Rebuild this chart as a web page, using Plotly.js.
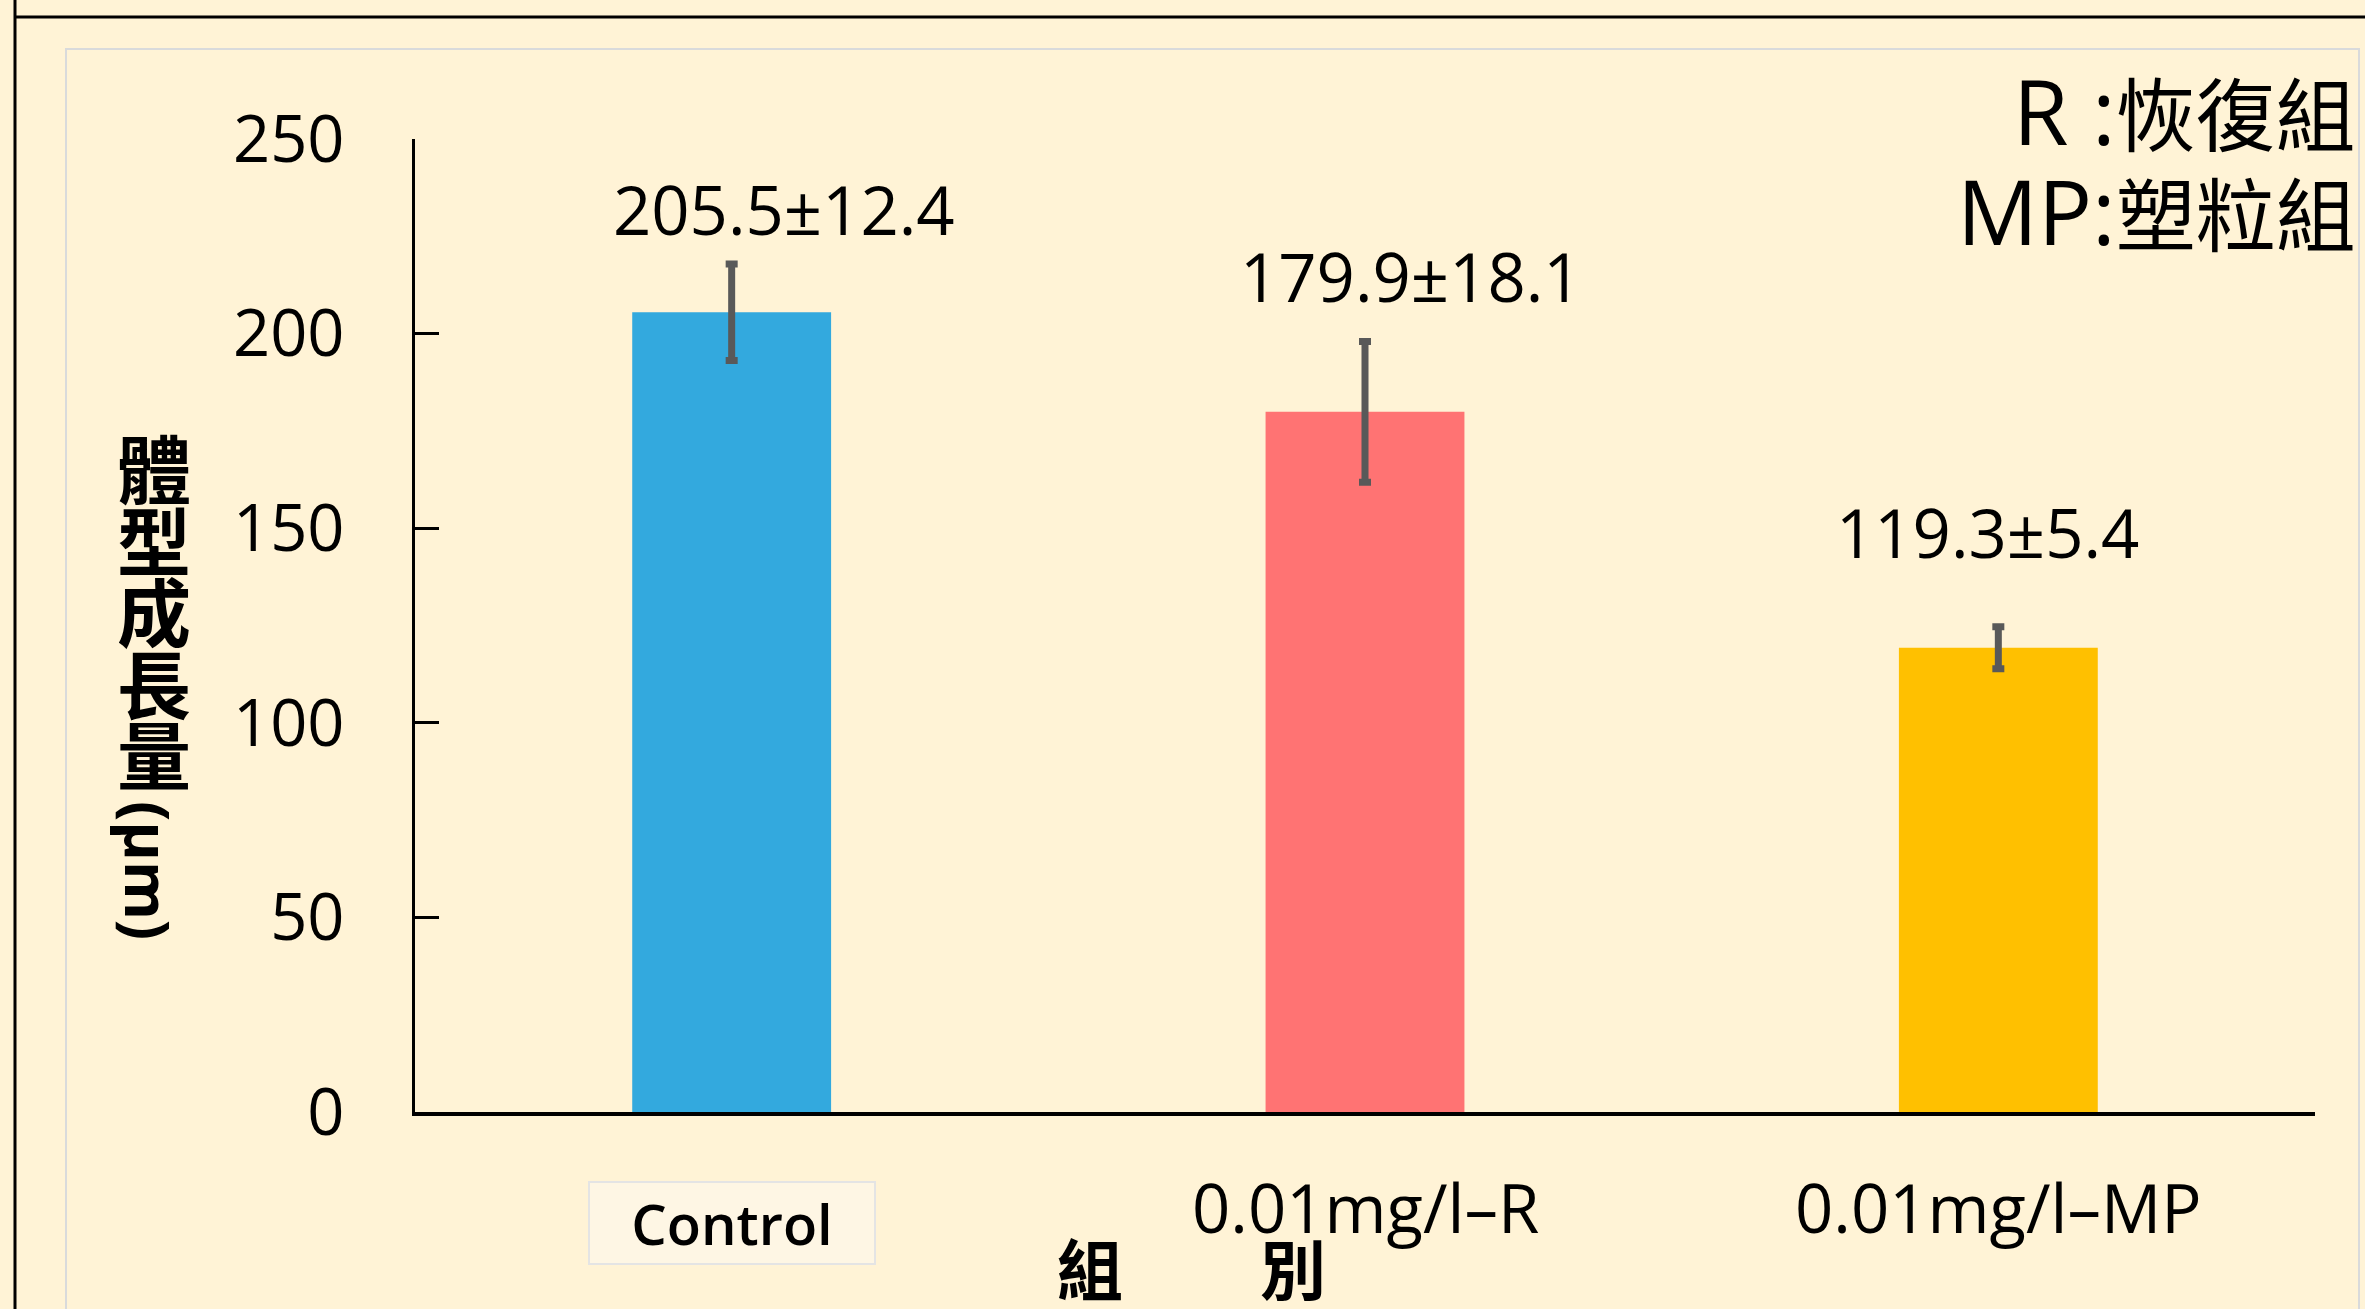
<!DOCTYPE html>
<html>
<head>
<meta charset="utf-8">
<script src="https://cdn.plot.ly/plotly-3.0.1.min.js"></script>
<style>
  html, body { margin: 0; padding: 0; background: #FFF3D6; }
  #chart { width: 2365px; height: 1309px; }
</style>
</head>
<body>
<div id="chart"></div>
<script>
// ---- data ----
const categories = ['Control', '0.01mg/l–R', '0.01mg/l–MP'];
const means = [205.5, 179.9, 119.3];
const sds = [12.4, 18.1, 5.4];
const valueLabels = ['205.5±12.4', '179.9±18.1', '119.3±5.4'];
const barColors = ['#33A9DE', '#FF7373', '#FFC000'];
const yTicks = [0, 50, 100, 150, 200, 250];
const yTitleChars = ['體', '型', '成', '長', '量'];
const yTitleUnit = '(μm)';
const xTitleChars = ['組', '別'];
const noteKeys = ['R :', 'MP:'];
const noteNames = ['恢復組', '塑粒組'];

// ---- layout geometry (pixels) ----
const W = 2365, H = 1309;
const M = { l: 415, r: 50, t: 139, b: 197 };
const PW = W - M.l - M.r, PH = H - M.t - M.b;
const px2x = px => (px - M.l) / PW;
const px2y = py => (H - M.b - py) / PH;

const latin = 'Open Sans, Noto Sans CJK TC, sans-serif';
const cjk = 'Noto Sans CJK TC, Open Sans, sans-serif';

const trace = {
  type: 'bar',
  x: categories,
  y: means,
  marker: { color: barColors, line: { width: 0 } },
  error_y: { type: 'data', array: sds, visible: true, color: '#595959', thickness: 7, width: 6 },
  hoverinfo: 'skip',
  showlegend: false
};

const annotations = [];

// value labels above bars
const labelPy = [209, 276, 532];
const labelShift = [52, 46, -11];
valueLabels.forEach((t, i) => {
  annotations.push({
    text: t, xref: 'x', x: i, yref: 'paper', y: px2y(labelPy[i]),
    xshift: labelShift[i], xanchor: 'center', yanchor: 'middle', showarrow: false,
    font: { family: latin, size: 67, color: '#000' }
  });
});

// category labels under x axis
categories.forEach((c, i) => {
  if (i === 0) {
    annotations.push({
      text: c, xref: 'x', x: i, yref: 'paper', y: px2y(1223),
      xanchor: 'center', yanchor: 'middle', showarrow: false,
      width: 284, height: 80, borderpad: 0,
      bgcolor: '#FEF6E4', bordercolor: '#E4E4E4', borderwidth: 2,
      font: { family: latin, size: 56, color: '#000', weight: 600 }
    });
  } else {
    annotations.push({
      text: c, xref: 'x', x: i, yref: 'paper', y: px2y(1207),
      xanchor: 'center', yanchor: 'middle', showarrow: false,
      font: { family: latin, size: 67, color: '#000' }
    });
  }
});

// y axis title: stacked CJK chars (one text block) + rotated unit
annotations.push({
  text: yTitleChars.map(ch => '<span style="font-size:74px">' + ch + '</span>').join('<br>'),
  xref: 'paper', x: px2x(154), yref: 'paper', y: px2y(608),
  xanchor: 'center', yanchor: 'middle', showarrow: false,
  font: { family: cjk, size: 55, color: '#000', weight: 700 }
});
annotations.push({
  text: yTitleUnit, xref: 'paper', x: px2x(148), yref: 'paper', y: px2y(870),
  xanchor: 'center', yanchor: 'middle', showarrow: false, textangle: 90,
  font: { family: latin, size: 60, color: '#000', weight: 700 }
});

// x axis title
const xTitlePx = [1090, 1293];
xTitleChars.forEach((ch, i) => {
  annotations.push({
    text: ch, xref: 'paper', x: px2x(xTitlePx[i]), yref: 'paper', y: px2y(1266),
    xanchor: 'center', yanchor: 'middle', showarrow: false,
    font: { family: cjk, size: 66, color: '#000', weight: 700 }
  });
});

// note at top right (right-aligned to the panel edge)
const noteRowPy = [110, 210];
noteKeys.forEach((k, i) => {
  annotations.push({
    text: '<span style="font-size:90px">' + k + '</span>' + noteNames[i],
    xref: 'paper', x: px2x(2358), yref: 'paper', y: px2y(noteRowPy[i]),
    xanchor: 'right', yanchor: 'middle', showarrow: false,
    font: { family: latin, size: 80, color: '#000' }
  });
});

const shapes = [
  { type: 'rect', xref: 'paper', yref: 'paper', layer: 'below',
    x0: px2x(66), x1: px2x(2359), y0: px2y(49), y1: px2y(1340),
    line: { color: '#D9DADB', width: 2 }, fillcolor: 'rgba(0,0,0,0)' },
  { type: 'line', xref: 'paper', yref: 'paper',
    x0: px2x(15), x1: px2x(15), y0: px2y(-10), y1: px2y(1320),
    line: { color: '#000', width: 3 } },
  { type: 'line', xref: 'paper', yref: 'paper',
    x0: px2x(14), x1: px2x(2380), y0: px2y(17), y1: px2y(17),
    line: { color: '#000', width: 3 } }
];

const layout = {
  width: W, height: H,
  margin: { l: M.l, r: M.r, t: M.t, b: M.b, pad: 0 },
  paper_bgcolor: '#FFF3D6',
  plot_bgcolor: 'rgba(0,0,0,0)',
  bargap: 0.686,
  showlegend: false,
  xaxis: {
    type: 'category', range: [-0.5, 2.5],
    showline: true, linecolor: '#000', linewidth: 3.5,
    ticks: '', showticklabels: false, showgrid: false, zeroline: false, fixedrange: true
  },
  yaxis: {
    range: [0, 250], tickmode: 'array', tickvals: yTicks,
    ticks: 'inside', ticklen: 24, tickwidth: 3, tickcolor: '#000',
    showline: true, linecolor: '#000', linewidth: 3.5,
    showgrid: false, zeroline: false, fixedrange: true,
    tickfont: { family: latin, size: 65, color: '#000' },
    ticklabelstandoff: 54
  },
  annotations: annotations,
  shapes: shapes
};

Plotly.newPlot('chart', [trace], layout, { displayModeBar: false, staticPlot: true });
</script>
</body>
</html>
